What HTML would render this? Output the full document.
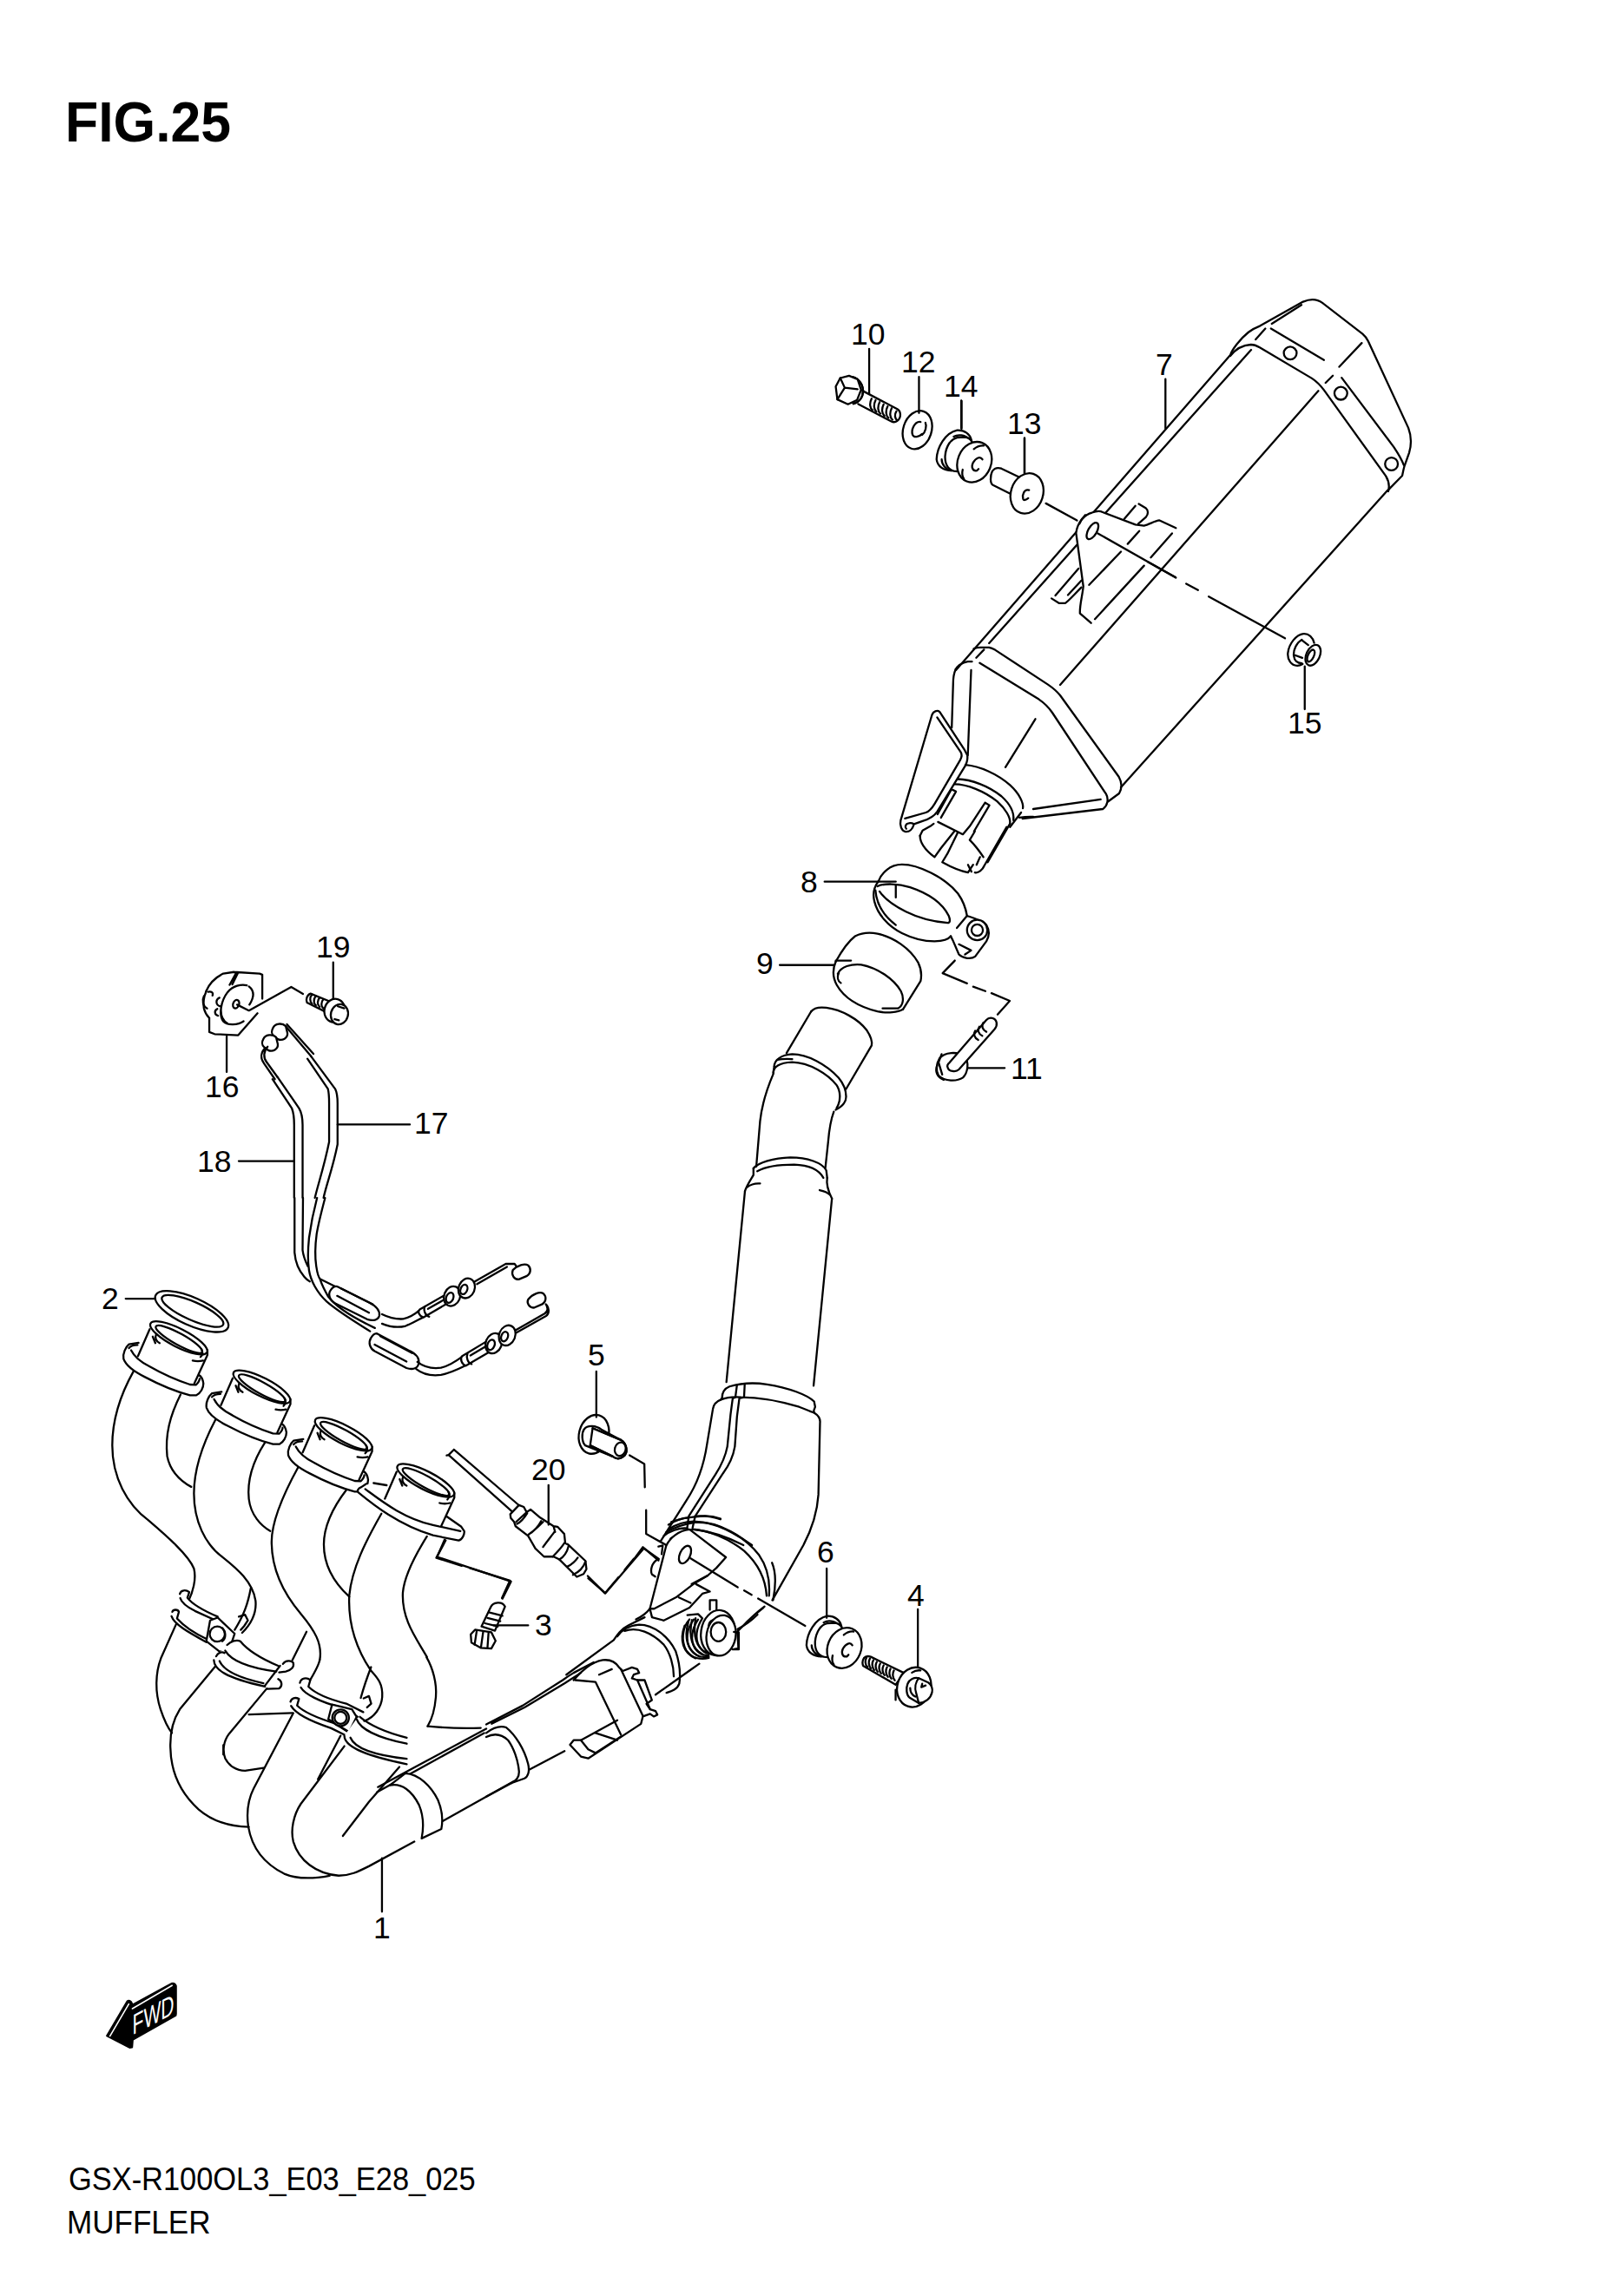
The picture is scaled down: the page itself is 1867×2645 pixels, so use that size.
<!DOCTYPE html>
<html><head><meta charset="utf-8"><style>
html,body{margin:0;padding:0;background:#fff;}
body{width:1867px;height:2645px;overflow:hidden;position:relative;}
svg{position:absolute;left:0;top:0;}
svg path,svg line,svg ellipse,svg circle,svg polyline,svg rect{fill:none;stroke:#000;stroke-width:2.3;vector-effect:non-scaling-stroke;stroke-linecap:round;stroke-linejoin:round;}
svg .f{fill:#000;}
svg .w{fill:#fff;}
svg text{font-family:"Liberation Sans",sans-serif;fill:#000;stroke:none;}
svg .d{stroke-dasharray:40 9 8 9;stroke-linecap:butt;}
</style></head><body>
<svg width="1867" height="2645" viewBox="0 0 1867 2645" xmlns="http://www.w3.org/2000/svg">
<!-- text -->
<text transform="translate(75,163) scale(0.977,1)" style="font-weight:bold;font-size:64px">FIG.25</text>
<g style="font-size:35.5px">
<text x="980" y="397">10</text>
<text x="1038" y="429">12</text>
<text x="1087" y="457">14</text>
<text x="1160" y="500">13</text>
<text x="1331" y="432">7</text>
<text x="1483" y="845">15</text>
<text x="922" y="1028">8</text>
<text x="871" y="1122">9</text>
<text x="1164" y="1243">11</text>
<text x="364" y="1103">19</text>
<text x="236" y="1264">16</text>
<text x="477" y="1306">17</text>
<text x="227" y="1350">18</text>
<text x="117" y="1508">2</text>
<text x="677" y="1573">5</text>
<text x="612" y="1705">20</text>
<text x="941" y="1800">6</text>
<text x="1045" y="1850">4</text>
<text x="616" y="1884">3</text>
<text x="430" y="2233">1</text>
</g>
<text transform="translate(79,2523) scale(0.956,1)" style="font-size:36px">GSX-R100OL3_E03_E28_025</text>
<text transform="translate(77,2573) scale(0.961,1)" style="font-size:36.5px">MUFFLER</text>

<!-- muffler -->
<!-- RA cap -->
<g transform="translate(1350,330) scale(0.18508)">
<path d="M362,428 C370,395 425,325 475,285 C505,262 530,252 548,245 L815,95 C850,80 895,72 935,102 L1185,295 C1200,308 1212,322 1220,340 L1470,880 C1487,925 1490,985 1475,1035 L1445,1120 C1437,1150 1435,1165 1432,1178 L1340,1272"/>
<path d="M362,432 C395,390 440,365 490,362 C510,362 525,368 545,380 L870,572 C900,592 925,618 945,645 L1330,1180 C1345,1205 1355,1240 1345,1275"/>
<path d="M620,232 L805,115 M615,262 L945,458 M520,330 L580,262 M1180,352 L1040,500 M1000,555 L955,600"/>
<path d="M1055,568 L1380,1000 C1410,1045 1430,1080 1442,1112"/>
<circle cx="735" cy="415" r="40"/><circle cx="1050" cy="665" r="40"/><circle cx="1365" cy="1105" r="40"/>
</g>
<!-- long body lines -->
<path d="M1416.6,409.6 L1101,772 M1441,403 L1139.2,741 M1133.3,748.4 L1124.4,757.7 M1518.4,450.3 L1221,789 M1598,565 L1291,907"/>
<!-- RC leaders -->
<g transform="translate(1080,380) scale(0.24676)">
<path d="M1063,230 L1063,460 M110,330 L110,460 M405,505 L405,670"/>
<path d="M505,810 L650,890 M750,955 L1110,1155 M1160,1185 L1215,1215 M1265,1245 L1621,1440"/>
</g>
<!-- RB2 bracket -->
<g transform="translate(1190,570) scale(0.11104)">
<path d="M1095,95 L1170,140 C1195,160 1195,200 1170,230 L1090,300 M945,250 L1060,115"/>
<path d="M190,1075 L270,1125 L330,1125 C360,1110 420,1040 500,960 M230,1045 L470,765 M360,1040 L500,890"/>
<path class="w" style="stroke:none" d="M445,395 C460,280 540,200 610,185 C650,170 690,165 720,180 L1060,310 L1150,320 C1200,310 1260,270 1310,265 L1480,345 L1400,420 L1100,800 L700,1150 L600,1330 L485,1230 C480,1150 510,1050 520,950 Z"/>
<path d="M445,395 C460,280 540,200 610,185 C650,170 690,165 720,180 L1060,310 L1150,320 C1200,310 1260,270 1310,265 L1480,345 M445,400 L520,950 C510,1050 480,1150 485,1230 L600,1330"/>
<path d="M1440,400 L1220,650 M1150,735 L640,1290 M1100,375 L980,510 M910,590 L580,935"/>
<ellipse cx="615" cy="375" rx="45" ry="95" transform="rotate(30 615 375)"/>
<path d="M540,210 C520,230 490,270 480,300"/>
<path d="M670,400 L1480,860"/>
</g>
<!-- RE lower cap -->
<path d="M1121.5,747.4 C1124,746.3 1126,745.9 1129,745.9 L1139.2,745.9 C1142,746.5 1144,747.5 1146,748.6 L1207,788.6 C1212,792 1217,796 1221,801 L1288.7,895 C1292,901 1292.5,908 1289,914 L1276.4,923.3"/>
<path d="M1100.7,771 C1103,767 1108,763.5 1114.6,762.2 L1119.5,762.2 M1128.4,763.7 L1196.5,805.6 C1203,810 1208,815 1212,821 L1273.9,914.7 C1277,920 1276,928 1270.2,932 L1177.7,943"/>
<path d="M1100.7,771 C1098.5,776 1097.8,782 1097.8,787 L1096.2,838.2 M1118.5,772 L1114.7,870.3 M1190,932 L1267.7,920.9 M1158,883.8 L1192.5,828.3"/>
<!-- RT outlet -->
<g transform="translate(1030,860) scale(0.098717)">
<path class="w" d="M440,-370 L75,860 C60,920 85,985 130,993 C175,1000 215,965 230,905 L330,870 C410,845 460,820 500,760 L830,222 C850,180 858,140 852,100 L820,40 L530,-405 C500,-430 455,-410 440,-370 Z"/>
<path d="M125,840 L370,770 C410,755 440,720 470,670 L770,155 C790,120 790,90 775,65 L500,-340"/>
<path d="M140,960 C120,940 130,900 170,895 C200,890 220,900 228,905"/>
<path d="M830,215 C1000,230 1200,320 1350,450 C1460,550 1510,660 1500,720 M740,380 C900,385 1100,460 1250,580 C1350,670 1400,770 1390,860 M700,440 C850,440 1050,520 1200,640 C1300,730 1360,830 1350,900"/>
<path d="M1480,770 L1350,940 M1460,830 C1520,820 1570,818 1621,820"/>
<path d="M680,505 L720,525 L545,830 M660,512 L505,790"/>
<path d="M510,880 L800,1025 L880,930 M1060,655 L1110,685 L930,990 M1060,655 L880,930"/>
<path d="M300,1040 C300,1110 350,1200 470,1290 L545,1185 L700,990 M740,1005 L620,1250 L560,1350 C650,1400 750,1450 860,1470 L920,1380"/>
<path d="M880,1090 L940,990 M880,1090 C950,1160 1000,1230 1040,1290 M1310,940 L1050,1390 C1030,1440 980,1480 940,1470 M1350,900 L1090,1350 M300,1040 L330,980 L420,930 L460,900"/>
<path d="M860,1380 L900,1460 M960,1380 L1000,1290"/>
</g>

<!-- bolts -->
<!-- RD bolts 10 12 14 13 -->
<g transform="translate(940,350) scale(0.18508)">
<path d="M330,280 L330,560 M640,455 L640,680 M905,605 L905,778 M1297,835 L1297,1060"/>



<path class="w" d="M205,455 C250,450 290,490 292,540 C292,580 270,612 232,622 L200,560 Z"/>
<path d="M205,455 C250,450 290,490 292,540 C292,580 270,612 232,622"/>
<path class="w" d="M122,515 L150,462 L205,448 L258,470 L280,535 L255,598 L198,625 L132,595 Z"/>
<path d="M150,462 L178,522 L132,595 M178,522 L258,532"/>
<path d="M288,541 L505,655 C530,668 530,712 505,728 C495,736 480,738 468,732 L262,624"/>
<path d="M345,590 C330,620 335,650 350,660 M370,600 C355,630 360,660 375,672 M395,612 C380,642 385,672 400,684 M420,625 C405,655 410,685 425,697 M445,638 C430,668 435,698 450,710 M470,650 C455,680 460,710 475,722"/>
<path d="M500,668 C485,690 490,715 505,725"/>
<ellipse cx="630" cy="785" rx="88" ry="122" transform="rotate(18 630 785)"/>
<path d="M650,735 C610,730 590,790 600,815 C608,835 640,830 660,810 M680,740 C690,760 680,800 660,815"/>




<ellipse cx="1312" cy="1180" rx="100" ry="128" transform="rotate(18 1312 1180)"/>
<path d="M1152,1025 L1262,1078 M1208,1182 L1100,1128 C1082,1118 1082,1072 1096,1042 C1108,1025 1130,1018 1152,1025"/>
<path d="M1325,1160 C1295,1150 1280,1190 1288,1215 C1292,1225 1305,1222 1320,1210"/>

</g>
<use href="#grom" transform="translate(149.8,-1366.1)"/>
<!-- nut 15 -->
<g transform="translate(1450,690) scale(0.06169)">
<path d="M1030,820 C1010,720 930,640 830,650 C700,665 560,830 540,1010 C530,1130 600,1250 720,1245 C760,1245 790,1230 815,1215"/>
<path d="M800,760 C700,820 640,950 650,1060 C660,1150 720,1200 800,1200 M810,775 L920,860 M660,1045 L810,1100"/>
<ellipse cx="1010" cy="1050" rx="125" ry="205" transform="rotate(25 1010 1050)"/>
<ellipse cx="970" cy="1060" rx="55" ry="120" transform="rotate(25 970 1060)"/>
<path d="M855,1260 L855,2060"/>
</g>

<!-- clamps -->
<!-- RF clamps 8 9 bolt 11 -->
<g transform="translate(870,980) scale(0.23442)">
<path d="M340,152 L690,152 M120,562 L385,562 M395,540 L470,540 M1040,1068 L1225,1068"/>
<path d="M605,150 C620,110 660,68 720,68 C800,68 930,130 995,210 C1020,245 1035,290 1040,320"/>
<path d="M605,150 C585,175 575,210 585,250 C600,310 650,370 720,405 C780,435 840,445 880,445 C920,445 950,435 960,420"/>
<path d="M600,175 C630,160 700,160 760,180 C850,210 920,260 950,320 C960,345 955,355 945,355 C880,350 800,330 740,300 C680,270 630,230 610,200"/>
<path d="M590,195 C595,260 630,320 690,365 M690,170 L690,230"/>
<path d="M990,380 L1040,320 C1070,330 1110,340 1135,365 C1150,390 1150,420 1135,445 L1080,520 C1060,535 1020,530 1000,510 L970,440 L960,420"/>
<circle class="w" cx="1090" cy="390" r="50"/><circle cx="1090" cy="390" r="28"/>
<path d="M1000,460 L1060,490 L1030,510"/>
<path d="M395,545 C420,500 450,450 490,420 C520,405 560,400 600,408 C680,425 760,480 800,550 C815,580 818,610 812,640 L725,780"/>
<path d="M395,545 C380,580 378,620 400,660 C440,730 520,770 600,790 C650,800 700,795 725,780"/>
<path d="M405,605 C420,570 470,555 520,560 C600,575 680,630 715,690 C730,720 730,760 700,775 L625,775"/>
<path d="M410,600 C400,620 405,640 420,650"/>
<path d="M980,540 L920,602 L1040,652 M1070,668 L1130,690 M1160,700 L1250,738 L1190,805"/>





<path class="w" d="M905,1020 C930,990 990,985 1030,1010 C1050,1040 1045,1090 1020,1115 C990,1135 930,1135 900,1105 C885,1080 890,1045 905,1020 Z"/>
<path d="M893,1055 C882,1085 892,1112 925,1126 M915,1000 L900,1040 L918,1100"/>
<path class="w" d="M955,1040 L1135,832 C1150,815 1180,820 1185,845 C1188,860 1182,870 1175,878 L1000,1075 C985,1090 950,1085 945,1065 C940,1055 945,1048 955,1040 Z"/>
<path d="M1080,885 C1070,900 1075,920 1095,930 M1100,865 C1090,880 1095,900 1115,910 M1120,845 C1110,860 1115,880 1135,890"/>
</g>

<!-- pipe -->
<!-- RG pipe -->
<g transform="translate(760,1150) scale(0.21777)">
<path d="M800,70 C815,50 840,45 880,50 C960,60 1050,110 1095,170 C1115,200 1125,225 1120,250 L985,480"/>
<path d="M800,70 L670,290"/>
<path d="M605,360 C605,330 640,298 700,296 C780,296 880,350 945,420 C970,450 985,490 985,520 C985,550 970,570 930,590"/>
<path d="M600,395 C600,365 630,340 700,338 C790,340 890,400 935,460 C955,490 960,540 935,580"/>
<path d="M605,360 L600,395 M620,325 C650,320 680,320 700,322"/>
<path d="M600,400 C570,470 540,560 530,650 L510,890"/>
<path d="M920,600 C905,640 895,700 890,760 L875,900"/>
<path d="M495,900 C520,870 600,845 690,842 C780,842 860,870 880,910 L885,950"/>
<path d="M515,915 C560,890 640,880 710,880 C780,882 840,905 865,950"/>
<path d="M495,900 L495,935 C480,960 460,990 450,1020 M885,950 C878,990 895,1030 910,1060"/>
<path d="M460,1000 C480,985 505,978 530,980 M845,1015 C870,1020 890,1030 900,1040"/>
<path d="M450,1020 L352,2030 M910,1060 L813,2050"/>





</g>
<!-- RZ lower bend -->
<g transform="translate(760,1580) scale(0.12338)">
<path d="M580,250 C580,200 600,160 650,140 C750,110 870,100 1000,120 C1200,150 1380,220 1440,280 L1450,330 C1440,360 1430,370 1440,380"/>
<path d="M570,262 C620,242 700,235 760,240 C900,240 1100,270 1300,330 C1380,360 1420,380 1440,385 M580,250 L572,262"/>
<path d="M570,262 C520,282 500,310 495,350 L440,680 C410,880 350,1050 250,1200 L10,1580"/>
<path d="M1440,385 C1480,410 1500,440 1495,480 L1480,1150 C1470,1300 1430,1450 1340,1621 L1050,2135"/>
<path d="M720,125 L705,240 L680,250 L660,400 L630,700 C615,780 590,850 520,960 L270,1350 L255,1460 M792,122 L786,240 L742,250 L720,420 L700,700 C685,790 650,870 590,950 L330,1350 L305,1460"/>
<path d="M80,1430 C130,1400 200,1370 260,1365 M330,1350 C400,1345 500,1355 565,1380 M60,1500 C150,1450 250,1420 330,1410 C450,1400 600,1440 860,1621 M100,1560 C200,1500 280,1470 330,1475 C450,1490 600,1530 780,1621"/>
</g>

<!-- joint -->
<!-- RP mount plate -->
<g transform="translate(730,1720) scale(0.12338)">
<path d="M115,160 L115,380 L310,490 M0,620 L85,505 L230,630"/>
<path d="M350,270 C420,240 520,222 640,215 C700,212 760,222 810,240"/>
<path d="M330,335 C400,290 470,268 560,265 C800,270 1030,400 1170,580 C1240,680 1275,800 1262,960"/>
<path d="M550,340 C700,350 880,420 1030,540 C1150,650 1230,800 1240,960 M1290,650 C1320,720 1335,820 1300,1000"/>
<path d="M280,400 C330,360 420,320 500,330"/>
<path class="w" d="M300,500 C330,420 420,350 520,340 L860,600 L770,700 L690,770 L570,840 L400,970 L190,1080 L150,1080 Z"/>
<ellipse cx="478" cy="575" rx="48" ry="88" transform="rotate(25 478 575)"/>
<path d="M150,1080 C120,1120 80,1150 20,1180 M150,1080 L170,1160 L280,1190 L520,1070 L640,940 L710,920 L580,850 M420,975 L530,1025 M540,850 L690,770"/>
<path d="M530,610 L970,880 M1030,910 L1100,950 M1160,985 L1600,1240"/>
<path d="M230,500 L270,490 L260,570 M220,620 C170,650 150,720 170,760 L200,780"/>
<path d="M710,1090 L710,1000 L772,1000 L772,1090"/>
<path d="M500,1140 L600,1130 L640,1170 M520,1180 C450,1260 440,1380 490,1470 C540,1540 620,1560 700,1540 M560,1180 C490,1270 480,1380 530,1460 C570,1520 630,1540 700,1530 M600,1180 C540,1270 525,1370 570,1450 C605,1500 650,1520 700,1515 M640,1170 C580,1260 570,1360 610,1430 C640,1480 680,1500 710,1495"/>
<ellipse class="w" cx="785" cy="1305" rx="158" ry="212" transform="rotate(8 785 1305)"/>
<path d="M700,1260 C690,1200 740,1170 800,1175 C850,1185 880,1240 870,1300 C860,1360 830,1390 790,1400 M700,1260 C690,1320 720,1370 760,1380"/>
<circle cx="805" cy="1290" r="52"/>
<path d="M835,1260 C810,1240 780,1260 780,1290 C780,1320 800,1330 830,1320"/>
<path d="M942,1300 L980,1300 L980,1460 L922,1460 M970,1290 C1030,1230 1100,1150 1220,1060 M1150,1120 L1210,1070"/>
</g>
<!-- RG6 grommet 6 + bolt 4 -->
<g id="grom" transform="translate(920,1840) scale(0.098717)">
<path class="w" d="M90,560 C95,420 190,250 330,220 C420,215 480,270 495,330 L500,350 L420,620 L290,690 C170,700 100,640 90,560 Z"/>
<path d="M150,560 C150,620 200,680 260,690 M290,295 C340,265 420,275 465,320"/>
<path class="w" d="M190,520 C200,400 260,320 330,305 L420,300 C460,305 490,330 500,350 L520,600 L330,700 C230,700 185,620 190,520 Z"/>
<ellipse class="w" cx="532" cy="592" rx="195" ry="242" transform="rotate(22 532 592)"/>
<path d="M525,440 C560,410 600,395 640,400 M395,680 C385,720 390,760 410,790"/>
<path d="M625,560 C600,520 550,540 515,600 C492,650 510,700 560,692 L580,672"/>
</g>
<g transform="translate(920,1840) scale(0.098717)">
<path class="w" d="M840,695 L1230,885 L1130,1020 L750,800 C740,770 740,740 760,710 C775,692 810,685 840,695 Z"/>
<path d="M790,705 C770,740 775,790 800,810 M830,715 C810,750 815,800 840,830 M870,735 C850,770 855,820 880,850 M910,755 C890,790 895,840 920,870 M950,775 C930,810 935,860 960,890 M990,795 C970,830 975,880 1000,910 M1030,815 C1010,850 1015,900 1040,930 M1070,835 C1050,870 1055,920 1080,950 M1110,855 C1090,890 1095,940 1120,970"/>
<ellipse class="w" cx="1345" cy="1050" rx="195" ry="235" transform="rotate(18 1345 1050)"/>
<path d="M1320,880 C1350,860 1390,850 1420,855 M1130,1080 L1130,1200"/>
<path class="w" d="M1270,1010 C1290,960 1350,930 1400,945 L1510,995 C1550,1020 1565,1070 1555,1110 C1540,1180 1480,1230 1400,1235 L1290,1170 C1255,1140 1250,1060 1270,1010 Z"/>
<path d="M1400,945 C1360,990 1350,1060 1370,1120 C1380,1160 1390,1200 1400,1235 M1440,1010 L1430,1050 L1480,1030 M1300,1060 C1300,1100 1320,1140 1360,1160"/>
</g>
<!-- RH joint -->
<g transform="translate(640,1580) scale(0.28377)">









<path d="M300,340 L360,375 L362,470"/>
<path d="M130,830 L200,900 L255,835 M280,805 L317,760"/>
<path d="M1100,800 L1100,1000 M1470,965 L1470,1200"/>









<path d="M120,300 C105,285 105,250 115,235 C130,215 165,220 185,235 L265,278 C290,292 295,330 275,345 C262,355 245,355 232,345 Z"/>
<ellipse cx="155" cy="255" rx="60" ry="80" transform="rotate(15 155 255)"/>
<path class="w" d="M150,230 L265,278 C290,292 295,330 275,345 C262,355 245,355 232,345 L140,300 Z"/>
<path d="M150,230 L265,278 M140,300 L232,345"/>
<ellipse cx="262" cy="315" rx="22" ry="28" transform="rotate(15 262 315)"/>
<path d="M165,0 L165,185"/>
</g>

<!-- collector -->
<!-- RM collector -->
<g transform="translate(560,1860) scale(0.20973)">
<path d="M0,603 L200,500 L420,360 C440,345 460,332 480,320 L590,262 M30,600 L210,510 L430,378 L520,320"/>
<path d="M440,330 L700,140 C720,110 740,80 780,60 L870,15"/>
<path d="M0,650 C40,620 80,610 110,620 C160,660 210,740 230,820 C240,860 230,890 210,900 L140,925 M0,672 C40,652 80,652 120,690 C150,730 175,800 180,860 C182,890 170,910 140,925"/>
<path d="M240,850 L430,750 M0,1000 L140,925"/>
<path d="M480,360 C520,310 580,260 640,250 C680,245 710,260 730,290 L750,310 L800,290 L830,300 L840,320 L810,330 L800,350 L830,360 L870,360 L910,470 L880,490 L900,520 L930,530 L940,550 L920,560 L900,545 L860,560 L850,600 L560,790 L520,780 L460,715 L480,690 L520,690 L560,740 L600,760 L740,670"/>
<path d="M490,360 L600,370 L740,660 M620,330 L690,300 M520,690 L720,580 M600,650 L720,690 M740,300 L860,555 M830,360 L900,520"/>
<path d="M720,120 C740,90 780,60 840,55 C920,55 1000,120 1040,200 C1060,260 1070,320 1060,380 C1050,410 1020,420 990,430 M760,90 C830,65 910,100 975,165 C1010,210 1030,280 1030,340 M930,440 L1120,305 L1170,270"/>
<path d="M1090,60 C1060,140 1080,210 1150,240 M1110,40 C1085,130 1105,200 1170,230 M1130,30 C1110,120 1130,190 1190,220 M1150,20 C1135,110 1150,180 1210,210"/>
<ellipse class="w" cx="1290" cy="115" rx="80" ry="112" transform="rotate(10 1290 115)"/>
<ellipse cx="1275" cy="95" rx="42" ry="52"/>
<path d="M1360,95 L1380,100 L1385,185 L1360,190 M1380,80 C1420,60 1460,30 1490,0"/>
</g>

<!-- headers -->
<!-- RJ headers top -->
<g transform="translate(100,1480) scale(0.30845)">
<path d="M145,52 L255,52"/>
<ellipse cx="392" cy="100" rx="148" ry="52" transform="rotate(24 392 100)"/>
<ellipse cx="395" cy="98" rx="125" ry="34" transform="rotate(24 395 98)"/>
<!-- pipe 1 -->
<path d="M175,322 C120,420 95,510 95,600 C95,720 150,820 230,880 C300,940 380,1010 400,1060 C410,1100 395,1150 380,1180"/>
<path d="M350,410 C310,490 292,560 300,640 C310,690 345,730 390,755"/>




<!-- pipe 2 -->
<path d="M480,505 C430,600 400,690 400,780 C400,880 440,970 510,1020 C560,1060 620,1110 630,1180 C635,1230 610,1270 580,1300"/>
<path d="M665,590 C620,660 598,730 605,800 C612,860 650,900 685,920"/>




<!-- pipe 3 -->
<path d="M790,680 C735,780 690,880 690,960 C690,1070 740,1160 800,1230 C850,1290 880,1340 870,1400"/>
<path d="M970,765 C920,830 885,900 885,970 C885,1050 920,1110 980,1165"/>




<!-- pipe 4 -->
<path d="M1100,855 C1040,960 990,1060 980,1160 C975,1260 1000,1350 1060,1440"/>
<path d="M1270,940 C1220,1020 1185,1090 1180,1150 C1175,1250 1230,1320 1270,1390"/>




<!-- dash 3 & sensor wire -->
<path d="M1340,955 L1305,1020 L1400,1050 M1430,1058 L1580,1105 L1550,1170"/>

</g>
<defs>
<g id="cyl">
<path class="w" style="stroke:none" d="M-33,-11 L-47,21 L17.9,52.5 L33,16.7 Z"/>
<path d="M-33.5,-10 L-47,21 M33,14 L33,19.8 L17.9,52.5"/>
<ellipse class="w" cx="0" cy="0" rx="36.5" ry="10.5" transform="rotate(27)"/>
<ellipse cx="1" cy="1.2" rx="30.5" ry="6.6" transform="rotate(29)"/>
<path d="M-26,-4 C-28,0 -26,4 -22,6 M26,13 C28,16 28,19 25,22 M-30,-1.5 L-27,6 M16,26 C20,27 24,27 28,26"/>
</g>
<g id="fl">
<path class="w" style="stroke:none" d="M-57.4,7.4 C-61.1,10.5 -64.8,17.9 -63.6,24.1 C-61.1,31.5 -51.2,38.9 -38.9,45.1 C-20.4,54.9 -1.9,62.3 12.9,66 L20.3,66 C25.3,63.6 28.4,57.4 28.4,52.5 C27.7,47.5 25.3,43.8 22.8,42.6 L-46.3,5.6 Z"/>
<path d="M-46.3,5.6 L-57.4,7.4 C-61.1,10.5 -64.8,17.9 -63.6,24.1 C-61.1,31.5 -51.2,38.9 -38.9,45.1 C-20.4,54.9 -1.9,62.3 12.9,66 L20.3,66 C25.3,63.6 28.4,57.4 28.4,52.5 C27.7,47.5 25.3,43.8 22.8,42.6"/>
<path d="M-54.9,14.2 C-51.2,21.6 -43.8,27.8 -33.9,32.7 C-16.7,42.6 -1.9,48.8 12.9,53.7 L20,54 C22,52 24,50 24,47 M-57.4,11.7 C-55.5,9.3 -51.2,8.1 -47.5,8.1"/>
</g>
<g id="fl4">
<path class="w" style="stroke:none" d="M-77.5,13.9 C-60.7,27.7 -31.1,51.4 8.4,63.2 L38,69.1 C42,68.2 44.9,62.2 44.4,58.3 L41,53.3 L24.2,41.5 L-68.6,4 L-74.5,7.9 C-77.5,8.9 -79.5,11.9 -77.5,13.9 Z"/>
<path d="M-68.6,4 L-74.5,7.9 C-77.5,8.9 -79.5,11.9 -77.5,13.9 C-60.7,27.7 -31.1,51.4 8.4,63.2 L38,69.1 C42,68.2 44.9,62.2 44.4,58.3 L41,53.3 L24.2,41.5"/>
<path d="M-69.6,9.9 C-50.8,23.7 -26.1,43.5 8.4,51.4 L40,58.3 M-60,3 L-45,5.5"/>
</g>
</defs>
<g transform="translate(205.9,1541.3)"><use href="#fl"/><use href="#cyl"/></g>
<g transform="translate(301.5,1597.7)"><use href="#fl"/><use href="#cyl"/></g>
<g transform="translate(395.6,1652.3)"><use href="#fl"/><use href="#cyl"/></g>
<g transform="translate(490.3,1705.5)"><use href="#fl4"/><use href="#cyl"/></g>
<!-- RK headers bottom -->
<g transform="translate(150,1880) scale(0.30845)">
























<path d="M940,845 L940,1045"/>
</g>
<!-- RL2 lower headers + clamps -->
<g transform="translate(120,1760) scale(0.21781)">
<path d="M775,320 C760,400 740,460 690,540 M1070,550 L995,700 M1140,697 C1135,730 1110,770 1080,820"/>
<path d="M385,500 L300,690 C270,770 268,870 298,960 C318,1020 338,1060 358,1085"/>
<path d="M590,730 L400,960 C368,1010 348,1080 350,1160 C352,1290 400,1400 500,1490 C570,1550 650,1580 765,1582"/>
<path d="M860,850 L660,1090 C630,1130 625,1180 640,1220 C660,1260 700,1285 745,1285 L843,1270 M630,1150 L630,1200"/>
<path d="M765,988 L995,980"/>
<path d="M1000,980 L790,1380 C760,1440 752,1510 762,1580 C782,1700 852,1780 952,1830 C1022,1860 1100,1858 1192,1840"/>
<path d="M1250,1100 L1130,1330 M1270,1155 L1040,1460 C1000,1520 985,1600 1000,1660 C1030,1760 1120,1830 1240,1840 C1300,1840 1340,1820 1400,1790 L1640,1660"/>
<path d="M1561,1265 L1400,1450 L1262,1630"/>
<!-- clamp A -->
<path class="w" style="stroke:none" d="M450,340 C430,325 405,330 400,350 C395,380 430,420 480,440 L590,490 L600,470 C530,440 470,410 440,370 Z"/>
<path d="M400,350 C405,330 430,325 450,340 L440,370 C470,410 530,440 600,470 M402,372 C410,400 440,420 480,440 L590,490"/>
<path class="w" style="stroke:none" d="M395,445 C390,430 365,430 360,445 C350,470 380,520 460,560 L540,605 L545,590 C480,560 430,530 385,480 Z"/>
<path d="M360,445 C365,430 390,430 395,445 L385,480 C430,530 480,560 545,590 M356,468 C370,510 440,550 540,605"/>
<path class="w" d="M560,490 L600,475 L690,560 L660,650 L610,655 L540,600 Z"/>
<circle class="w" cx="598" cy="562" r="40"/><path d="M625,530 C645,550 645,585 625,600"/>
<path d="M712,470 L745,460 L760,490 L740,520 L722,540"/>
<path class="w" style="stroke:none" d="M650,620 C670,600 700,590 720,600 C760,650 850,700 920,730 L935,760 L850,845 C700,800 590,760 580,700 L610,660 Z"/>
<path d="M650,620 C670,600 700,590 720,600 C760,650 850,700 920,730 M640,650 C670,700 760,740 910,760 M592,680 C600,662 620,652 636,662 M580,700 C582,750 640,792 850,840 M610,705 C630,752 700,792 842,822"/>
<path d="M850,835 L930,730 M945,720 C960,700 990,700 1000,715 C1005,735 990,755 960,760 L925,765 M920,800 C940,810 945,835 925,850 L862,852"/>
<!-- clamp B -->
<path class="w" style="stroke:none" d="M1090,805 C1070,790 1040,795 1035,820 C1030,860 1100,910 1250,950 L1340,1000 L1370,975 L1280,930 C1200,910 1120,880 1080,840 Z"/>
<path d="M1035,820 C1040,795 1070,790 1090,805 L1080,840 C1120,880 1200,910 1280,930 L1370,975 M1040,845 C1060,880 1140,920 1250,950 L1340,1000"/>
<path class="w" style="stroke:none" d="M1030,905 C1010,895 990,900 985,920 C980,960 1080,1020 1200,1060 L1280,1100 L1290,1080 L1220,1035 C1140,1010 1060,980 1020,940 Z"/>
<path d="M985,920 C990,900 1010,895 1030,905 L1020,940 C1060,980 1140,1010 1220,1035 L1290,1080 M988,942 C1010,980 1080,1020 1200,1060 L1280,1100"/>
<path class="w" d="M1205,935 L1310,960 L1335,1000 L1295,1080 L1185,1012 Z"/>
<circle class="w" cx="1250" cy="1005" r="44"/><circle cx="1250" cy="1005" r="32"/>
<path d="M1372,902 L1400,890 L1412,930 L1390,950"/>
<path class="w" style="stroke:none" d="M1335,1010 C1400,1040 1480,1080 1600,1110 L1600,1250 C1400,1210 1280,1160 1270,1100 Z"/>
<path d="M1335,1012 C1352,1062 1440,1110 1600,1142 M1352,1000 C1400,1040 1480,1080 1600,1110 M1270,1100 C1270,1150 1350,1200 1600,1250 M1302,1110 C1322,1160 1400,1200 1600,1222"/>
</g>
<!-- RS sensor 20 -->
<g transform="translate(500,1650) scale(0.11104)">
<path d="M150,235 L830,840 M205,180 L895,770 M150,235 L205,180 M130,240 L150,235"/>
<path class="w" d="M790,850 L880,755 L930,775 L960,830 L1000,800 L1100,885 L1240,975 L1280,980 L1350,1055 L1360,1150 L1390,1165 L1570,1335 L1580,1420 L1550,1470 L1480,1500 L1300,1320 L1240,1290 L1140,1290 L1050,1205 L975,1075 L845,975 L830,930 L795,890 Z"/>
<path d="M850,930 L960,830 M860,950 C900,930 940,880 965,840 M980,1060 C1040,1020 1090,960 1110,920 M1010,1040 C1060,1000 1110,950 1130,930 M1130,1190 C1180,1120 1230,1060 1250,1030 M1240,980 L1255,1035 M1230,1290 C1270,1250 1320,1200 1350,1150 M1300,1320 C1350,1290 1380,1240 1395,1180 M1440,1480 C1500,1450 1550,1400 1570,1340 M1380,1395 C1430,1370 1470,1330 1490,1300"/>
</g>
<!-- RQ collector left -->
<g transform="translate(380,1880) scale(0.19741)">
<path d="M238,224 C275,265 310,300 305,380 C300,440 260,500 200,520 M563,146 C600,210 625,300 618,380 C612,450 595,510 570,550 M240,205 C215,270 195,330 180,385"/>
<path d="M570,550 C650,558 760,565 880,560"/>
<path d="M280,905 L912,565 M275,935 L900,590"/>
<path d="M655,1105 L1075,870"/>
<path class="w" d="M350,895 C420,880 480,930 520,1010 C545,1070 550,1130 535,1205 L650,1150 C660,1100 655,1040 630,980 C590,900 520,830 440,825 Z"/>
</g>
<!-- RI sensor 20 and bolt 3 -->
<g transform="translate(480,1680) scale(0.24676)">
<path d="M615,125 L615,310"/>



<path d="M800,560 L880,630 L1060,420 L1130,470"/>
<path d="M130,380 L95,460 L440,575 L400,655"/>
<path class="w" d="M345,695 C355,670 400,665 412,692 L365,805 L302,785 Z"/>
<path d="M340,720 L400,735 M330,745 L390,760 M318,770 L378,785"/>
<path class="w" d="M252,822 L272,800 L348,812 L368,852 L348,888 L300,885 L255,860 Z"/>
<path d="M280,805 L270,870 M310,810 L300,880 M335,815 L330,885"/>
<path d="M360,780 L520,780"/>
</g>

<!-- wires -->
<!-- RW wires 16-19 -->
<g transform="translate(200,1060) scale(0.27762)">
<path d="M662,175 L662,335 M220,480 L220,630 M680,848 L980,848 M270,1000 L500,1000"/>













<path d="M465,440 L570,565 M470,432 L580,555"/>
<path class="w" d="M412,448 C420,428 450,425 465,440 L472,468 C475,490 450,502 432,494 L415,480 C405,472 406,458 412,448 Z"/>
<path class="w" d="M372,494 C380,474 410,471 425,486 L432,514 C435,536 410,548 392,540 L375,526 C365,518 366,504 372,494 Z"/>
<path d="M380,530 C360,550 360,575 375,595 L420,660 M390,525 C372,545 372,570 385,588 L430,650"/>
<path d="M410,660 L490,780 C498,800 500,820 500,850 L500,1152 M430,650 L520,780 C532,800 535,820 535,850 L535,1152"/>
<path d="M555,575 L640,700 C645,720 645,740 645,760 L645,920 C625,1020 598,1100 586,1152 M570,565 L670,700 C680,720 680,740 680,760 L680,930 C660,1030 633,1100 622,1152"/>



</g>
<g transform="translate(330,1400) scale(0.21593)">


<path class="w" d="M270,380 L440,465 C470,480 500,500 495,535 C490,560 460,565 430,555 L260,470 C230,455 220,420 235,400 C245,385 260,378 270,380 Z"/>
<path d="M290,390 L460,475 M270,430 L440,520"/>









<path class="w" d="M480,630 L650,720 C685,735 710,760 705,790 C700,820 670,825 640,815 L470,725 C445,710 435,680 450,655 C458,640 470,630 480,630 Z"/>
<path d="M500,645 L670,735 M470,690 L640,780"/>







</g>
<g transform="translate(330,1380) scale(0.092533)">
<path d="M100,0 L100,680 C110,800 150,900 220,980 C245,1010 270,1030 290,1040"/>
<path d="M205,0 L200,650 C210,730 235,790 265,850"/>
<path d="M380,0 C340,150 300,350 280,500 C265,650 265,800 280,900 C300,1030 380,1180 500,1290 C650,1420 850,1540 1040,1660"/>
<path d="M480,0 C440,150 400,300 375,450 C355,600 355,750 370,850 C385,950 405,1000 420,1010 L600,1100"/>
<path d="M420,1020 C440,1080 480,1160 520,1230 C620,1360 800,1470 1000,1570 L1100,1620"/>
</g>
<!-- R16 bracket 16 bolt 19 -->
<g transform="translate(225,1100) scale(0.12338)">
<path d="M130,720 L130,590 M130,720 L180,740 L400,750 L580,545 M625,185 L625,410 M360,160 L600,175 L625,185 M100,340 C130,270 190,210 260,175 L360,160 M320,280 L380,170 M345,275 L395,175"/>
<path d="M100,345 C85,380 70,440 80,500 C90,540 110,570 130,590 M120,345 C150,340 170,350 160,380"/>
<path d="M450,620 C400,655 300,665 260,620 C215,560 240,430 300,350 C350,290 430,270 480,285 M500,295 C545,330 560,380 505,465 M240,500 C235,560 250,610 300,640"/>
<ellipse cx="380" cy="460" rx="28" ry="40" transform="rotate(20 380 460)"/>
<path d="M390,465 L500,520 L895,300 L1005,365"/>
<path d="M80,385 C60,425 70,480 110,500 M225,400 C185,420 190,470 232,480 M205,505 C172,522 180,562 212,568"/>
<path class="w" d="M1075,362 L1262,438 L1232,540 L1042,445 C1030,420 1040,375 1075,362 Z"/>
<path d="M1090,370 C1065,395 1068,440 1090,455 M1125,385 C1100,410 1103,455 1125,470 M1160,400 C1135,425 1138,470 1160,485 M1195,415 C1170,440 1173,485 1195,500"/>
<ellipse class="w" cx="1300" cy="520" rx="95" ry="110" transform="rotate(15 1300 520)"/>
<ellipse class="w" cx="1345" cy="555" rx="80" ry="95" transform="rotate(15 1345 555)"/>
<path d="M1330,480 L1390,500 M1300,600 L1340,610"/>
</g>
<!-- RW3 connectors -->
<g transform="translate(440,1440) scale(0.13572)">
<path d="M0,545 C50,570 100,590 180,585 C230,575 280,545 320,510 M0,625 C60,650 120,665 200,645 C260,620 310,590 350,570"/>
<path class="w" d="M320,505 L520,390 L560,450 L350,572 C315,560 300,525 320,505 Z"/>
<path d="M362,482 C350,512 368,558 400,566 M390,500 L530,420"/>
<ellipse class="w" cx="595" cy="392" rx="68" ry="86" transform="rotate(22 595 392)"/>
<ellipse cx="575" cy="405" rx="30" ry="45" transform="rotate(22 575 405)"/>
<ellipse class="w" cx="718" cy="325" rx="68" ry="86" transform="rotate(22 718 325)"/>
<ellipse cx="695" cy="335" rx="28" ry="42" transform="rotate(22 695 335)"/>
<path d="M788,268 L1050,118 L1125,118 L1150,150 M806,290 L1060,143"/>
<path class="w" d="M1110,170 C1150,130 1210,110 1240,130 C1270,160 1260,200 1230,220 L1160,250 C1120,250 1095,210 1110,170 Z"/>
<path d="M300,950 C350,990 420,1010 500,1000 C560,985 620,950 680,905 M290,1010 C340,1050 420,1070 500,1060 C580,1045 650,1010 710,980"/>
<path class="w" d="M680,900 L880,780 L920,860 L712,982 C675,970 660,925 680,900 Z"/>
<path d="M725,880 C712,910 728,960 760,968 M750,895 L890,812"/>
<ellipse class="w" cx="948" cy="792" rx="68" ry="88" transform="rotate(22 948 792)"/>
<ellipse cx="925" cy="805" rx="30" ry="45" transform="rotate(22 925 805)"/>
<ellipse class="w" cx="1062" cy="725" rx="68" ry="88" transform="rotate(22 1062 725)"/>
<ellipse cx="1040" cy="735" rx="28" ry="42" transform="rotate(22 1040 735)"/>
<path d="M1132,682 L1380,540 C1410,520 1410,490 1390,460 M1140,702 L1392,560 C1420,540 1420,500 1400,470"/>
<path class="w" d="M1240,420 C1280,370 1340,350 1370,370 C1400,400 1390,440 1360,460 L1290,490 C1250,490 1225,450 1240,420 Z"/>
</g>
<!-- FWD arrow -->
<g transform="translate(110,2275) scale(0.067861)">
<path class="f" d="M195,1035 L540,450 C560,430 600,440 615,480 L620,515 L1290,150 C1330,135 1360,160 1365,190 L1365,660 L1360,690 L630,1100 L620,1230 L580,1235 Z"/>
<path style="stroke:#fff;stroke-width:1.6" d="M625,575 L1300,180 M245,1040 L565,495"/>
</g>
<text transform="matrix(0.64,-0.33,0,1,152.5,2344.5)" style="font-size:33px;fill:#fff;font-family:'Liberation Sans',sans-serif">FWD</text>

</svg>
</body></html>
